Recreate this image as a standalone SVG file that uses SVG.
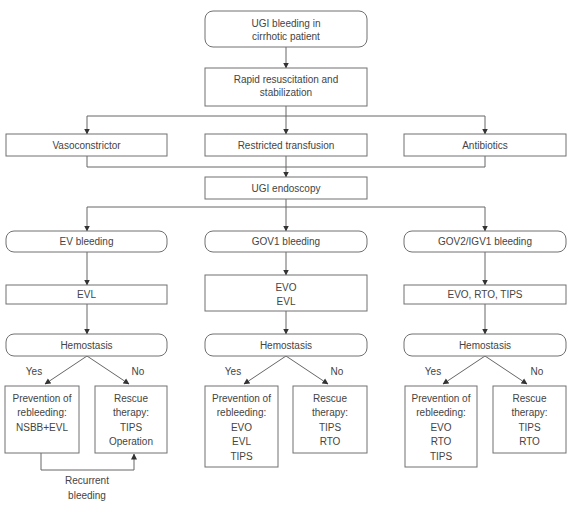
<svg xmlns="http://www.w3.org/2000/svg" width="582" height="507" viewBox="0 0 582 507">
<defs>
<marker id="ah" markerWidth="6" markerHeight="7" refX="5.5" refY="3.5" orient="auto" markerUnits="userSpaceOnUse">
<path d="M0,0.5 L6,3.5 L0,6.5 Z" fill="#333"/>
</marker>
<style>
.box{fill:#fff;stroke:#707070;stroke-width:1}
.t{font-family:"Liberation Sans",Arial,sans-serif;font-size:10px;fill:#444;text-anchor:middle}
.c{fill:none;stroke:#666;stroke-width:1}
.a{fill:none;stroke:#666;stroke-width:1;marker-end:url(#ah)}
</style>
</defs>
<rect width="582" height="507" fill="#fff"/>
<g id="connectors">
<path class="a" d="M286,47 V68"/>
<path class="c" d="M286,106 V116 M87,116 H485"/>
<path class="a" d="M87,116 V134"/>
<path class="a" d="M286,116 V134"/>
<path class="a" d="M485,116 V134"/>
<path class="c" d="M87,156 V167 H485 V156"/>
<path class="a" d="M286,156 V177"/>
<path class="c" d="M286,199 V207 M87,207 H485"/>
<path class="a" d="M87,207 V231"/>
<path class="a" d="M286,207 V231"/>
<path class="a" d="M485,207 V231"/>
<path class="a" d="M87,252 V285"/>
<path class="a" d="M87,304 V334"/>
<path class="a" d="M286,252 V275"/>
<path class="a" d="M286,311 V334"/>
<path class="a" d="M485,252 V285"/>
<path class="a" d="M485,304 V334"/>
<path class="a" d="M87,356 L45,384"/>
<path class="a" d="M87,356 L129,384"/>
<path class="a" d="M286,356 L244,384"/>
<path class="a" d="M286,356 L328,384"/>
<path class="a" d="M485,356 L443,384"/>
<path class="a" d="M485,356 L527,384"/>
<path class="a" d="M41,453 V470 H134 V454"/>
</g>
<g id="n1"><rect class="box" x="205" y="11" width="162" height="36" rx="8"/><text class="t" x="286" y="27">UGI bleeding in</text><text class="t" x="286" y="40">cirrhotic patient</text></g>
<g id="n2"><rect class="box" x="205" y="68" width="162" height="38"/><text class="t" x="286" y="83">Rapid resuscitation and</text><text class="t" x="286" y="96">stabilization</text></g>
<g id="n3"><rect class="box" x="6" y="134" width="161" height="22"/><text class="t" x="86.5" y="148.5">Vasoconstrictor</text></g>
<g id="n4"><rect class="box" x="205" y="134" width="162" height="22"/><text class="t" x="286" y="148.5">Restricted transfusion</text></g>
<g id="n5"><rect class="box" x="404" y="134" width="162" height="22"/><text class="t" x="485" y="148.5">Antibiotics</text></g>
<g id="n6"><rect class="box" x="205" y="177" width="162" height="22"/><text class="t" x="286" y="191.5">UGI endoscopy</text></g>
<g id="n7"><rect class="box" x="6" y="231" width="161" height="21" rx="8"/><text class="t" x="86.5" y="245">EV bleeding</text></g>
<g id="n8"><rect class="box" x="205" y="231" width="162" height="21" rx="8"/><text class="t" x="286" y="245">GOV1 bleeding</text></g>
<g id="n9"><rect class="box" x="404" y="231" width="162" height="21" rx="8"/><text class="t" x="485" y="245">GOV2/IGV1 bleeding</text></g>
<g id="n10"><rect class="box" x="6" y="285" width="161" height="19"/><text class="t" x="86.5" y="298">EVL</text></g>
<g id="n11"><rect class="box" x="205" y="275" width="162" height="36"/><text class="t" x="286" y="290.5">EVO</text><text class="t" x="286" y="304.5">EVL</text></g>
<g id="n12"><rect class="box" x="404" y="285" width="162" height="19"/><text class="t" x="485" y="298">EVO, RTO, TIPS</text></g>
<g id="n13"><rect class="box" x="6" y="334" width="161" height="22" rx="8"/><text class="t" x="86.5" y="348.5">Hemostasis</text></g>
<g id="n14"><rect class="box" x="205" y="334" width="162" height="22" rx="8"/><text class="t" x="286" y="348.5">Hemostasis</text></g>
<g id="n15"><rect class="box" x="404" y="334" width="162" height="22" rx="8"/><text class="t" x="485" y="348.5">Hemostasis</text></g>
<g id="labels">
<text class="t" x="34" y="375">Yes</text><text class="t" x="138" y="375">No</text>
<text class="t" x="233" y="375">Yes</text><text class="t" x="337" y="375">No</text>
<text class="t" x="433" y="375">Yes</text><text class="t" x="537" y="375">No</text>
<text class="t" x="87" y="484">Recurrent</text><text class="t" x="87" y="499">bleeding</text>
</g>
<g id="n16"><rect class="box" x="5" y="386" width="74" height="67"/><text class="t" x="42" y="401.5">Prevention of</text><text class="t" x="42" y="416">rebleeding:</text><text class="t" x="42" y="430.5">NSBB+EVL</text></g>
<g id="n17"><rect class="box" x="95" y="386" width="72" height="67"/><text class="t" x="131" y="401.5">Rescue</text><text class="t" x="131" y="416">therapy:</text><text class="t" x="131" y="430.5">TIPS</text><text class="t" x="131" y="445">Operation</text></g>
<g id="n18"><rect class="box" x="205" y="386" width="73" height="81"/><text class="t" x="241.5" y="401.5">Prevention of</text><text class="t" x="241.5" y="416">rebleeding:</text><text class="t" x="241.5" y="430.5">EVO</text><text class="t" x="241.5" y="445">EVL</text><text class="t" x="241.5" y="459.5">TIPS</text></g>
<g id="n19"><rect class="box" x="293" y="386" width="74" height="67"/><text class="t" x="330" y="401.5">Rescue</text><text class="t" x="330" y="416">therapy:</text><text class="t" x="330" y="430.5">TIPS</text><text class="t" x="330" y="445">RTO</text></g>
<g id="n20"><rect class="box" x="405" y="386" width="72" height="81"/><text class="t" x="441" y="401.5">Prevention of</text><text class="t" x="441" y="416">rebleeding:</text><text class="t" x="441" y="430.5">EVO</text><text class="t" x="441" y="445">RTO</text><text class="t" x="441" y="459.5">TIPS</text></g>
<g id="n21"><rect class="box" x="493" y="386" width="73" height="67"/><text class="t" x="529.5" y="401.5">Rescue</text><text class="t" x="529.5" y="416">therapy:</text><text class="t" x="529.5" y="430.5">TIPS</text><text class="t" x="529.5" y="445">RTO</text></g>
</svg>
